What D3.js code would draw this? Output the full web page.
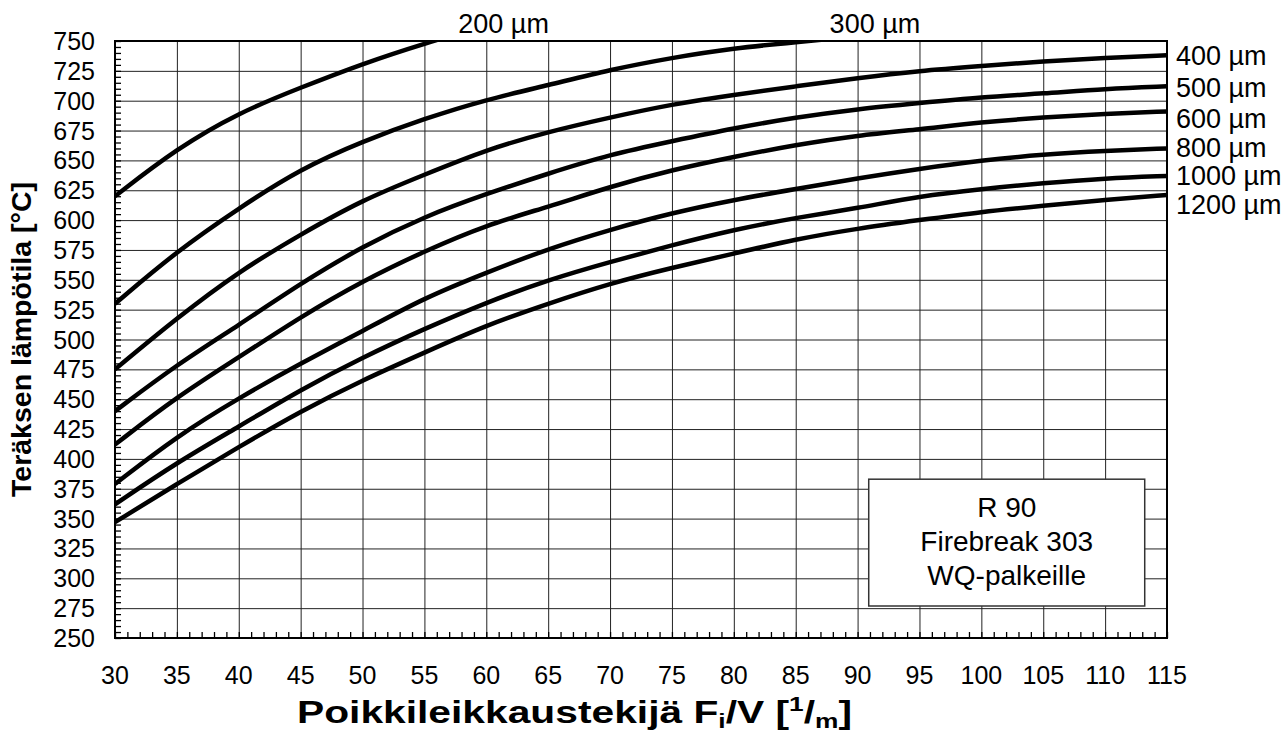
<!DOCTYPE html>
<html>
<head>
<meta charset="utf-8">
<script src="https://cdn.jsdelivr.net/npm/d3@7"></script>
<style>
  body { margin: 0; background: #fff; }
  .chart text { font-family: "Liberation Sans", Arial, sans-serif; fill: #000; }
  .grid line { stroke: #222; stroke-width: 1; }
  .grid path { display: none; }
  .minor line { stroke: #000; stroke-width: 1.3; }
  .minor path { display: none; }
</style>
</head>
<body>
<div class="chart"></div>
<script>
// section factor Fi/V (1/m) at each gridline
var fiPerV = [30, 35, 40, 45, 50, 55, 60, 65, 70, 75, 80, 85, 90, 95, 100, 105, 110, 115];

// steel temperature (°C) per protection thickness, read at the x values above
var t200 = [620, 660, 690, 711, 731, 748, 763];
var t300 = [530, 574, 610, 643, 666, 685, 701, 713, 726, 736, 744, 749, 754];
var t400 = [475, 518, 557, 588, 617, 638, 659, 674, 686, 697, 705, 712, 719, 725, 729, 733, 736, 738];
var t500 = [440, 479, 512, 547, 578, 603, 622, 639, 655, 666, 677, 686, 693, 698, 703, 706, 710, 712];
var t600 = [412, 452, 485, 519, 549, 574, 596, 611, 628, 642, 653, 663, 671, 676, 682, 686, 689, 691];
var t800 = [379, 419, 451, 480, 507, 535, 556, 576, 592, 606, 617, 626, 635, 643, 650, 655, 658, 660];
var t1000 = [362, 397, 427, 458, 485, 509, 531, 550, 565, 579, 592, 602, 610, 620, 626, 631, 635, 637];
var t1200 = [347, 379, 410, 440, 466, 489, 512, 530, 547, 560, 572, 584, 593, 600, 607, 612, 617, 621];

var seriesNames = ["200 µm", "300 µm", "400 µm", "500 µm", "600 µm", "800 µm", "1000 µm", "1200 µm"];
var seriesValues = [t200, t300, t400, t500, t600, t800, t1000, t1200];

// axis ticks
var xTicks = d3.range(30, 116, 5);
var yTicks = d3.range(250, 751, 25);
var xMinor = d3.range(30, 116, 1);
var yMinor = d3.range(250, 751, 5);

var boxLines = ["R 90", "Firebreak 303", "WQ-palkeille"];

var svgWidth = 1283;
var svgHeight = 733;
var margin = { top: 41, right: 116, bottom: 95, left: 115 };
var chartWidth = svgWidth - margin.left - margin.right;
var chartHeight = svgHeight - margin.top - margin.bottom;

var svg = d3.select(".chart")
  .append("svg")
  .attr("width", svgWidth)
  .attr("height", svgHeight);

var chartGroup = svg.append("g")
  .attr("transform", `translate(${margin.left}, ${margin.top})`);

var xScale = d3.scaleLinear().domain([30, 115]).range([0, chartWidth]);
var yScale = d3.scaleLinear().domain([250, 750]).range([chartHeight, 0]);

// gridlines
chartGroup.append("g")
  .attr("class", "grid")
  .attr("transform", `translate(0, ${chartHeight})`)
  .call(d3.axisBottom(xScale).tickValues(xTicks).tickSize(-chartHeight).tickFormat(""));
chartGroup.append("g")
  .attr("class", "grid")
  .call(d3.axisLeft(yScale).tickValues(yTicks).tickSize(-chartWidth).tickFormat(""));

// minor ticks inside the plot
chartGroup.append("g")
  .attr("class", "minor")
  .attr("transform", `translate(0, ${chartHeight})`)
  .call(d3.axisBottom(xScale).tickValues(xMinor).tickSize(-6).tickFormat(""));
chartGroup.append("g")
  .attr("class", "minor")
  .call(d3.axisLeft(yScale).tickValues(yMinor).tickSize(-6).tickFormat(""));

// tick labels
chartGroup.selectAll(".xlab")
  .data(xTicks)
  .enter()
  .append("text")
  .attr("x", d => xScale(d))
  .attr("y", chartHeight + 46)
  .attr("text-anchor", "middle")
  .style("font-size", "25px")
  .text(d => d);

chartGroup.selectAll(".ylab")
  .data(yTicks)
  .enter()
  .append("text")
  .attr("x", -20)
  .attr("y", d => yScale(d))
  .attr("dy", "0.36em")
  .attr("text-anchor", "end")
  .style("font-size", "25px")
  .text(d => d);

// curves, clipped at the frame
svg.append("defs").append("clipPath")
  .attr("id", "plotClip")
  .append("rect")
  .attr("width", chartWidth)
  .attr("height", chartHeight);

var line = d3.line()
  .x((d, i) => xScale(fiPerV[i]))
  .y(d => yScale(d))
  .curve(d3.curveBasis);

chartGroup.append("g")
  .attr("clip-path", "url(#plotClip)")
  .selectAll("path")
  .data(seriesValues)
  .enter()
  .append("path")
  .attr("d", d => line(d))
  .attr("fill", "none")
  .attr("stroke", "#000")
  .attr("stroke-width", 4.5)
  .attr("stroke-linejoin", "round");

// frame
chartGroup.append("rect")
  .attr("width", chartWidth)
  .attr("height", chartHeight)
  .attr("fill", "none")
  .attr("stroke", "#000")
  .attr("stroke-width", 2);

// labels of the curves leaving through the top
var topLabels = [
  { name: seriesNames[0], x: 61.4 },
  { name: seriesNames[1], x: 91.4 }
];
chartGroup.selectAll(".toplab")
  .data(topLabels)
  .enter()
  .append("text")
  .attr("x", d => xScale(d.x))
  .attr("y", -8)
  .attr("text-anchor", "middle")
  .style("font-size", "27px")
  .text(d => d.name);

// labels at the right end
var rightLabelY = [738.3, 711, 685, 660.6, 637.5, 613.2];
chartGroup.selectAll(".rightlab")
  .data(seriesNames.slice(2))
  .enter()
  .append("text")
  .attr("x", chartWidth + 9)
  .attr("y", (d, i) => yScale(rightLabelY[i]))
  .attr("dy", "0.36em")
  .style("font-size", "27px")
  .text(d => d);

// info box
var boxX = xScale(90.9), boxY = yScale(383), boxW = xScale(113.2) - xScale(90.9), boxH = yScale(276.8) - yScale(383);
chartGroup.append("rect")
  .attr("x", boxX)
  .attr("y", boxY)
  .attr("width", boxW)
  .attr("height", boxH)
  .attr("fill", "#fff")
  .attr("stroke", "#333")
  .attr("stroke-width", 1.5);

chartGroup.selectAll(".boxtext")
  .data(boxLines)
  .enter()
  .append("text")
  .attr("x", boxX + boxW / 2)
  .attr("y", (d, i) => boxY + 28 + i * 34)
  .attr("dy", "0.36em")
  .attr("text-anchor", "middle")
  .style("font-size", "28px")
  .text(d => d);

// axis titles
svg.append("text")
  .attr("transform", "rotate(-90)")
  .attr("x", -(margin.top + chartHeight / 2))
  .attr("y", 31)
  .attr("text-anchor", "middle")
  .style("font-size", "28.5px")
  .style("font-weight", "bold")
  .text("Teräksen lämpötila [°C]");

var xTitle = svg.append("text")
  .attr("x", 297)
  .attr("y", 723)
  .attr("textLength", 555)
  .attr("lengthAdjust", "spacingAndGlyphs")
  .style("font-size", "31px")
  .style("font-weight", "bold");
xTitle.append("tspan").text("Poikkileikkaustekijä F");
xTitle.append("tspan").attr("dy", 5).style("font-size", "20px").text("i");
xTitle.append("tspan").attr("dy", -5).text("/V [");
xTitle.append("tspan").attr("dy", -12).style("font-size", "20px").text("1");
xTitle.append("tspan").attr("dy", 12).text("/");
xTitle.append("tspan").attr("dy", 5).style("font-size", "20px").text("m");
xTitle.append("tspan").attr("dy", -5).text("]");
</script>
</body>
</html>
